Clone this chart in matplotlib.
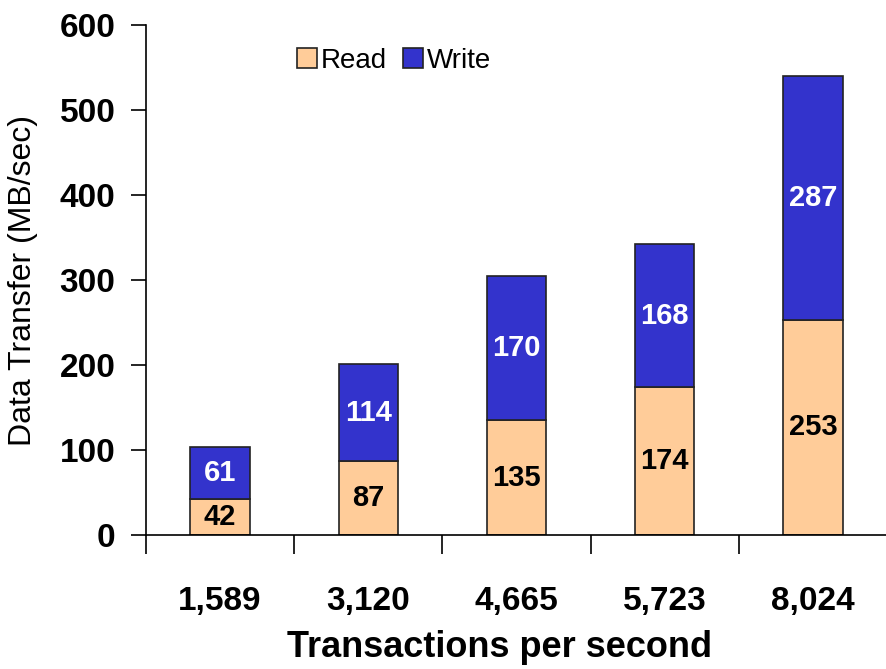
"""Stacked read/write data transfer vs transactions per second."""

import matplotlib

matplotlib.use("Agg")
import matplotlib.pyplot as plt
import numpy as np

TPS_LABELS = ["1,589", "3,120", "4,665", "5,723", "8,024"]
READ = [42, 87, 135, 174, 253]
WRITE = [61, 114, 170, 168, 287]

READ_COLOR = "#FFCC99"
WRITE_COLOR = "#3333CC"

plt.rcParams["font.family"] = ["Liberation Sans", "DejaVu Sans"]

W, H = 887, 669
fig = plt.figure(figsize=(W / 100, H / 100), dpi=100)
ax = fig.add_axes([146 / W, (H - 535) / H, 1 - 146 / W, 510 / H])

x = np.arange(len(TPS_LABELS))
width = 0.4
rb = ax.bar(x, READ, width, color=READ_COLOR, edgecolor="#222222", linewidth=1.2, label="Read")
wb = ax.bar(x, WRITE, width, bottom=READ, color=WRITE_COLOR, edgecolor="#222222",
            linewidth=1.2, label="Write")

for bar, v in zip(rb, READ):
    ax.text(bar.get_x() + bar.get_width() / 2, v / 2, str(v), ha="center", va="center",
            fontsize=21, fontweight="bold", color="black")
for bar, r, w in zip(wb, READ, WRITE):
    ax.text(bar.get_x() + bar.get_width() / 2, r + w / 2, str(w), ha="center", va="center",
            fontsize=21, fontweight="bold", color="white")

ax.set_xlim(-0.5, 4.44)
ax.set_ylim(0, 600)
ax.set_yticks(range(0, 601, 100))
ax.tick_params(axis="y", labelsize=24, length=11, width=1.2, pad=11)
for lbl in ax.get_yticklabels():
    lbl.set_fontweight("bold")

ax.set_xticks(x)
ax.set_xticklabels(TPS_LABELS, fontsize=24, fontweight="bold")
ax.tick_params(axis="x", which="major", length=0, pad=37)
ax.set_xticks(np.arange(-0.5, 4.6, 1.0), minor=True)
ax.tick_params(axis="x", which="minor", length=14, width=1.2)

ax.set_ylabel("Data Transfer (MB/sec)", fontsize=23)
ax.yaxis.set_label_coords((38 - 146) / (W - 146), 0.5)
ax.set_xlabel("Transactions per second", fontsize=26, fontweight="bold")
ax.xaxis.set_label_coords((500 - 146) / (W - 146), (535 - 630) / 510)

for s in ("top", "right"):
    ax.spines[s].set_visible(False)
for s in ("left", "bottom"):
    ax.spines[s].set_linewidth(1.2)

fig.legend(handles=[rb, wb], labels=["Read", "Write"], loc="upper left",
           bbox_to_anchor=(297 / W, 1 - 48 / H), ncol=2, frameon=False,
           fontsize=20, handlelength=0.72, handleheight=0.72, columnspacing=0.55,
           handletextpad=0.15, borderpad=0, borderaxespad=0)

fig.savefig("out.png", dpi=100)
